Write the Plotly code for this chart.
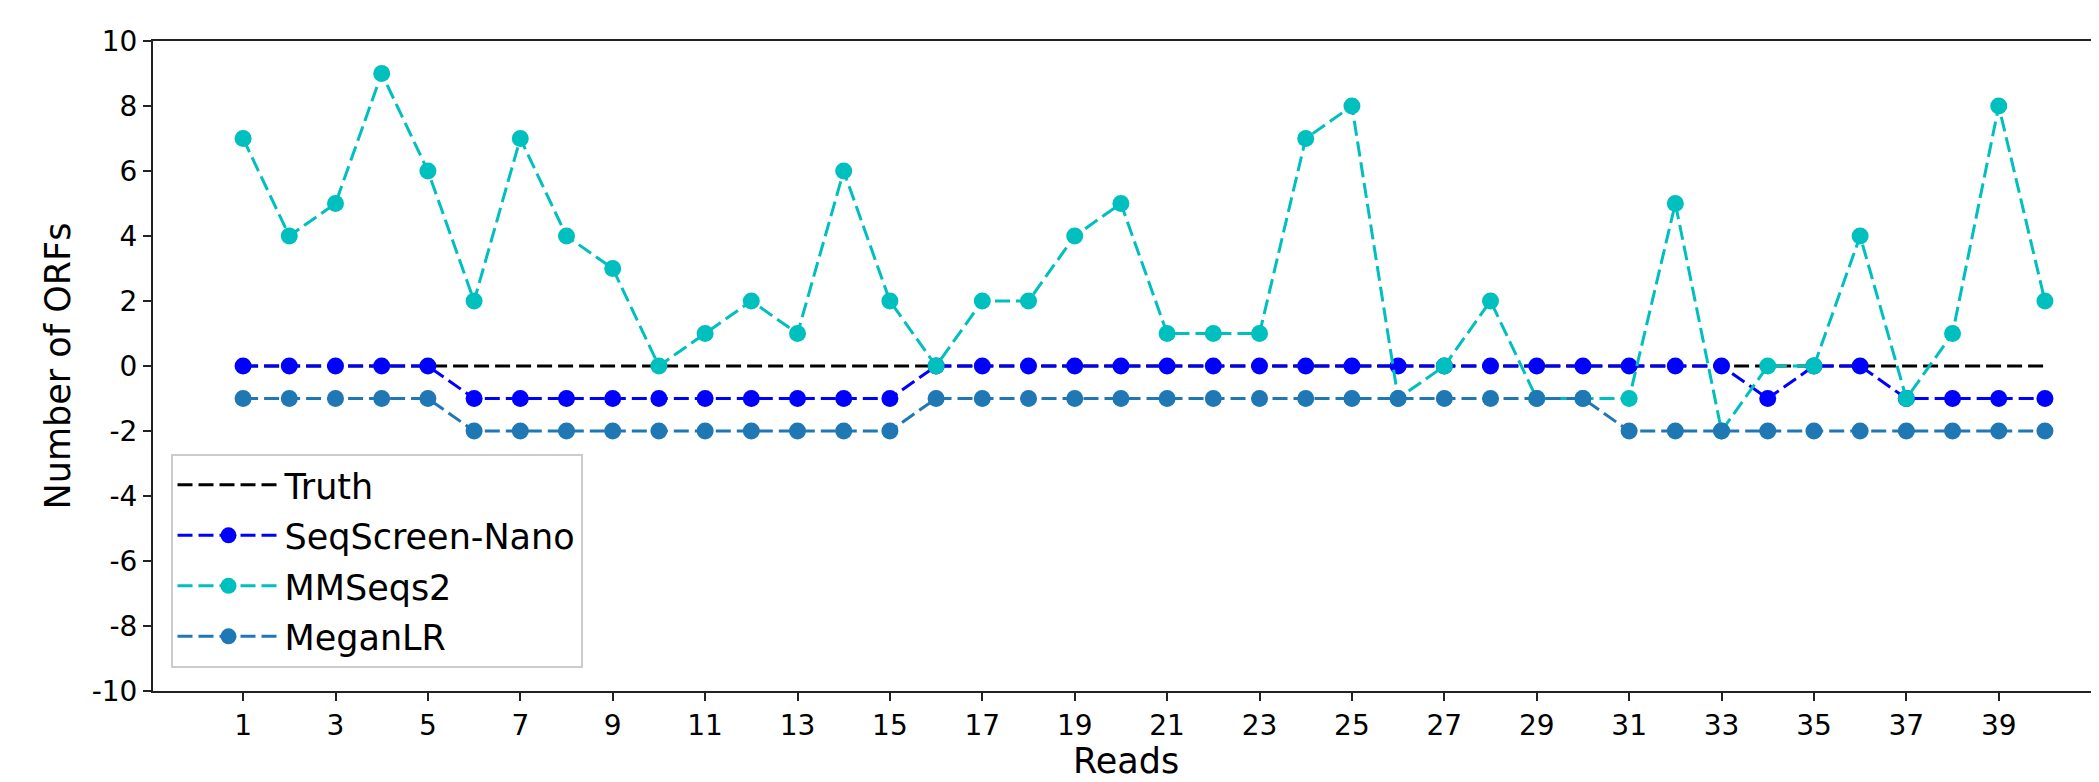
import plotly.graph_objects as go

reads = list(range(1, 41))
truth = [0] * 40
seqscreen = [0, 0, 0, 0, 0, -1, -1, -1, -1, -1,
             -1, -1, -1, -1, -1, 0, 0, 0, 0, 0,
             0, 0, 0, 0, 0, 0, 0, 0, 0, 0,
             0, 0, 0, -1, 0, 0, -1, -1, -1, -1]
mmseqs2 = [7, 4, 5, 9, 6, 2, 7, 4, 3, 0,
           1, 2, 1, 6, 2, 0, 2, 2, 4, 5,
           1, 1, 1, 7, 8, -1, 0, 2, -1, -1,
           -1, 5, -2, 0, 0, 4, -1, 1, 8, 2]
meganlr = [-1, -1, -1, -1, -1, -2, -2, -2, -2, -2,
           -2, -2, -2, -2, -2, -1, -1, -1, -1, -1,
           -1, -1, -1, -1, -1, -1, -1, -1, -1, -1,
           -2, -2, -2, -2, -2, -2, -2, -2, -2, -2]
xtick_vals = list(range(1, 41, 2))
ytick_vals = list(range(-10, 11, 2))
ytick_text = [str(v) for v in ytick_vals]

FONT = "DejaVu Sans"
DASH = "15px,6px"

fig = go.Figure()
fig.add_trace(go.Scatter(x=reads, y=truth, mode="lines", name="Truth",
                         legendgroup="a",
                         line=dict(color="black", width=3, dash=DASH)))
fig.add_trace(go.Scatter(x=reads, y=seqscreen, mode="lines+markers", name="SeqScreen-Nano",
                         legendgroup="b",
                         line=dict(color="#0000ff", width=3, dash=DASH),
                         marker=dict(color="#0000ff", size=17)))
fig.add_trace(go.Scatter(x=reads, y=mmseqs2, mode="lines+markers", name="MMSeqs2",
                         legendgroup="c",
                         line=dict(color="#00bfbf", width=3, dash=DASH),
                         marker=dict(color="#00bfbf", size=17)))
fig.add_trace(go.Scatter(x=reads, y=meganlr, mode="lines+markers", name="MeganLR",
                         legendgroup="d",
                         line=dict(color="#1f77b4", width=3, dash=DASH),
                         marker=dict(color="#1f77b4", size=17)))

fig.update_layout(
    width=2091, height=774,
    margin=dict(l=145, r=0, t=33, b=91),
    paper_bgcolor="white", plot_bgcolor="white",
    font=dict(family=FONT, size=28, color="black"),
    showlegend=True,
    legend=dict(x=0.009, y=0.036, xanchor="left", yanchor="bottom",
                bgcolor="rgba(255,255,255,0.8)", bordercolor="#cccccc", borderwidth=2,
                font=dict(family=FONT, size=35), tracegroupgap=2,
                itemwidth=102),
    xaxis=dict(range=[-0.95, 41.17], tickvals=xtick_vals,
               showgrid=False, zeroline=False, showline=True, linecolor="#222",
               linewidth=2, mirror=True, ticks="outside", ticklen=8, tickwidth=2,
               tickcolor="#222", tickfont=dict(size=28)),
    yaxis=dict(range=[-10, 10], tickvals=ytick_vals, ticktext=ytick_text,
               showgrid=False, zeroline=False, showline=True, linecolor="#222",
               linewidth=2, ticks="outside", ticklen=8, tickwidth=2,
               tickcolor="#222", tickfont=dict(size=28),
               title=dict(text="Number of ORFs", font=dict(size=35), standoff=10)),
    annotations=[dict(text="Reads", xref="paper", yref="paper", x=0.5, y=-0.108,
                      xanchor="center", yanchor="middle", showarrow=False,
                      font=dict(family=FONT, size=35, color="black"))],
)

fig.write_html("out.html")
